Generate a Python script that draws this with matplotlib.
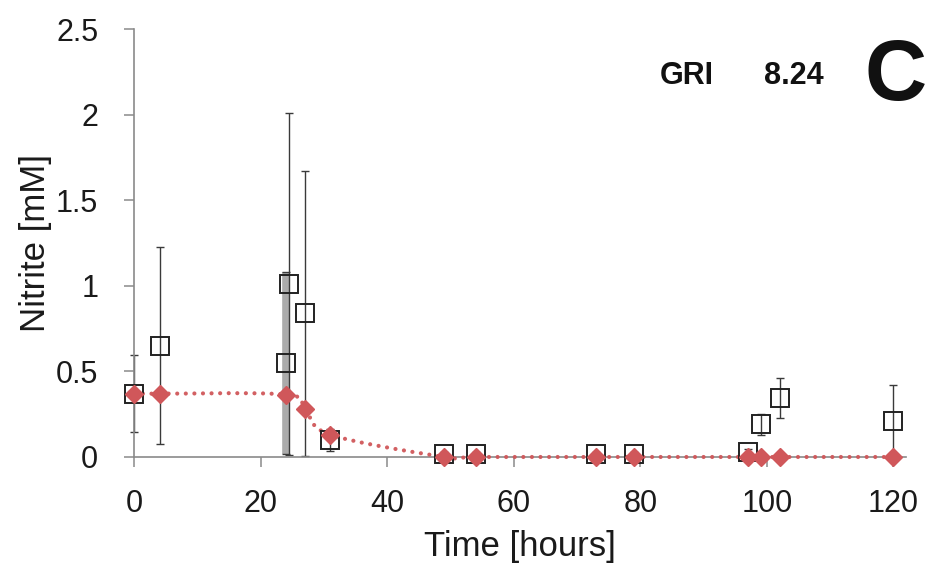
import numpy as np
import matplotlib
matplotlib.use("Agg")
import matplotlib.pyplot as plt

# Measured nitrite (open squares, mean ± SD)
meas_time = [0, 4, 24, 24.5, 27, 31, 49, 54, 73, 79, 97, 99, 102, 120]
meas_nitrite = [0.37, 0.65, 0.55, 1.01, 0.84, 0.10, 0.02, 0.02, 0.02, 0.02, 0.03, 0.19, 0.345, 0.21]
meas_sd = [0.225, 0.575, 0.53, 1.0, 0.835, 0.065, 0.01, 0.01, 0.01, 0.01, 0.015, 0.06, 0.115, 0.21]

# Model nitrite (red diamonds joined by a smoothed dotted line)
model_time = [0, 4, 24, 27, 31, 49, 54, 73, 79, 97, 99, 102, 120]
model_nitrite = [0.37, 0.37, 0.365, 0.278, 0.13, 0, 0, 0, 0, 0, 0, 0, 0]

x_ticks = [0, 20, 40, 60, 80, 100, 120]
y_ticks = [0, 0.5, 1, 1.5, 2, 2.5]
y_tick_labels = ["0", "0.5", "1", "1.5", "2", "2.5"]

RED = "#d0575a"
AXIS_GREY = "#8a8a8a"


def smooth_curve(xs, ys, n=40):
    """Catmull-Rom style smoothing through the given points."""
    p = np.column_stack([xs, ys]).astype(float)
    pts = []
    for i in range(len(p) - 1):
        p0 = p[i - 1] if i > 0 else p[i]
        p1 = p[i]
        p2 = p[i + 1]
        p3 = p[i + 2] if i + 2 < len(p) else p[i + 1]
        c1 = p1 + (p2 - p0) / 6.0
        c2 = p2 - (p3 - p1) / 6.0
        s = np.linspace(0, 1, n)[:, None]
        seg = ((1 - s) ** 3) * p1 + 3 * ((1 - s) ** 2) * s * c1 + 3 * (1 - s) * s ** 2 * c2 + s ** 3 * p2
        pts.append(seg if i == 0 else seg[1:])
    pts = np.vstack(pts)
    return pts[:, 0], pts[:, 1]


plt.rcParams["font.family"] = ["Liberation Sans", "DejaVu Sans"]

fig = plt.figure(figsize=(9.47, 5.77), dpi=100)
ax = fig.add_axes([0.1418, 0.208, 0.8150, 0.741])

# smoothed model line
sx, sy = smooth_curve(model_time, model_nitrite)
ax.plot(sx, sy, color=RED, lw=3.0, linestyle=(0, (0.01, 2.05)),
        dash_capstyle="round", clip_on=False, zorder=3, alpha=0.95)

# measured values with error bars
eb = ax.errorbar(meas_time, meas_nitrite, yerr=meas_sd, fmt="none",
                 ecolor="#3a3a3a", elinewidth=1.0, capsize=3, capthick=1.0,
                 clip_on=False, zorder=2)
# the overlapping 24 h replicate bars read as a wide grey band
bar_lc = eb.lines[2][0]
widths = [1.0] * len(meas_time)
colors = ["#3a3a3a"] * len(meas_time)
widths[2] = 5.5
colors[2] = "#ababab"
bar_lc.set_linewidths(widths)
bar_lc.set_colors(colors)

ax.plot(meas_time, meas_nitrite, linestyle="none", marker="s", ms=12.5,
        mfc="none", mec="#222222", mew=1.4, clip_on=False, zorder=4)

# model markers
ax.plot(model_time, model_nitrite, linestyle="none", marker="D", ms=9,
        color=RED, mec=RED, clip_on=False, zorder=5)

ax.set_xlim(0, 122)
ax.set_ylim(0, 2.5)
ax.set_xticks(x_ticks)
ax.set_yticks(y_ticks)
ax.set_yticklabels(y_tick_labels)

for side in ("top", "right"):
    ax.spines[side].set_visible(False)
for side in ("left", "bottom"):
    ax.spines[side].set_color(AXIS_GREY)
    ax.spines[side].set_linewidth(1.2)

ax.tick_params(axis="both", direction="out", length=7, width=1.1,
               color=AXIS_GREY, labelsize=22, labelcolor="#1a1a1a")
ax.tick_params(axis="x", pad=16)
ax.tick_params(axis="y", pad=19)

ax.set_xlabel("Time [hours]", fontsize=25, color="#1a1a1a", labelpad=8)
ax.set_ylabel("Nitrite [mM]", fontsize=25, color="#1a1a1a", labelpad=3)

fig.text(687 / 947, 1 - 76 / 577, "GRI", fontsize=22, fontweight="bold",
         ha="center", va="center", color="#111111")
fig.text(794 / 947, 1 - 76 / 577, "8.24", fontsize=22, fontweight="bold",
         ha="center", va="center", color="#111111")
fig.text(896 / 947, 1 - 78 / 577, "C", fontsize=62, fontweight="bold",
         ha="center", va="center", color="#111111")

fig.savefig("out.png", dpi=100)
